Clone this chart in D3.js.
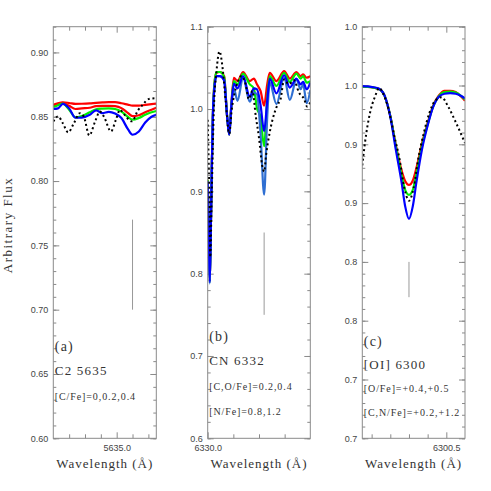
<!DOCTYPE html>
<html><head><meta charset="utf-8">
<script src="https://cdn.jsdelivr.net/npm/d3@7"></script>
<style>body{margin:0;background:#fff}svg{display:block}</style>
</head><body><svg id="chart" width="491" height="491"></svg>
<script>
// ---------- Panel (a): C2 5635 ----------
const aWave  = [5634.60,5634.63,5634.66,5634.70,5634.74,5634.78,5634.83,5634.87,5634.91,5634.95,5634.99,5635.03,5635.07,5635.10,5635.14,5635.18,5635.22,5635.25];
const aFlat  = [0.8593,0.8605,0.8612,0.8607,0.8600,0.8601,0.8604,0.8608,0.8611,0.8613,0.8613,0.8605,0.8594,0.8586,0.8586,0.8592,0.8598,0.8603];
const aRed   = [0.8585,0.8600,0.8608,0.8585,0.8560,0.8565,0.8570,0.8583,0.8585,0.8585,0.8582,0.8567,0.8530,0.8505,0.8512,0.8535,0.8555,0.8570];
const aGreen = [0.8575,0.8590,0.8602,0.8555,0.8495,0.8505,0.8535,0.8558,0.8563,0.8565,0.8560,0.8540,0.8500,0.8477,0.8490,0.8515,0.8535,0.8545];
const aBlue  = [0.8560,0.8565,0.8600,0.8565,0.8492,0.8493,0.8515,0.8550,0.8528,0.8538,0.8525,0.8490,0.8405,0.8360,0.8385,0.8455,0.8500,0.8515];
const aObsWave = [5634.600,5634.630,5634.660,5634.694,5634.730,5634.768,5634.793,5634.827,5634.863,5634.894,5634.920,5634.964,5634.996,5635.021,5635.046,5635.095,5635.135,5635.166,5635.200,5635.250];
const aObs     = [0.8464,0.8503,0.8450,0.8378,0.8450,0.8528,0.8500,0.8355,0.8460,0.8540,0.8500,0.8386,0.8480,0.8554,0.8520,0.8464,0.8550,0.8595,0.8637,0.8645];
const aMarker = [5635.10, 0.70, 0.77];
const aYMajor = [0.60,0.65,0.70,0.75,0.80,0.85,0.90];
const aYLabels = ["0.60","0.65","0.70","0.75","0.80","0.85","0.90"];
const aXMajor = [5635.0];
const aXLabels = ["5635.0"];
const aXMinor = [5634.7,5634.8,5634.9,5635.1,5635.2];
const aText = ["(a)","C2 5635","[C/Fe]=0,0.2,0.4"];

// ---------- Panel (b): CN 6332 ----------
const bWave  = [6330.00,6330.02,6330.04,6330.06,6330.08,6330.10,6330.13,6330.17,6330.24,6330.32,6330.38,6330.42,6330.46,6330.51,6330.58,6330.69,6330.82,6330.90,6330.96,6331.03,6331.10,6331.16,6331.21,6331.34,6331.49,6331.60,6331.73,6331.81,6331.86,6331.93,6332.00];
const bRed   = [0.914,0.850,0.790,0.850,0.930,0.990,1.030,1.044,1.045,1.040,0.990,0.969,1.005,1.038,1.034,1.045,1.034,1.037,1.030,1.022,1.004,1.030,1.044,1.034,1.046,1.037,1.045,1.040,1.042,1.038,1.040];
const bGreen = [0.914,0.850,0.790,0.850,0.930,0.990,1.030,1.045,1.045,1.039,0.990,0.969,1.004,1.034,1.030,1.043,1.030,1.025,1.001,0.990,0.955,1.012,1.040,1.028,1.044,1.033,1.043,1.037,1.040,1.032,1.034];
const bBlue  = [0.912,0.850,0.790,0.850,0.930,0.990,1.025,1.040,1.040,1.035,0.990,0.969,1.003,1.031,1.025,1.040,1.015,1.025,1.024,1.005,0.973,1.010,1.037,1.019,1.041,1.026,1.037,1.030,1.033,1.024,1.032];
const bLight = [0.912,0.850,0.788,0.850,0.930,0.990,1.025,1.040,1.040,1.035,0.990,0.969,1.003,1.025,1.010,1.038,1.009,1.020,1.018,0.970,0.896,0.990,1.032,1.006,1.038,1.011,1.036,1.024,1.030,1.007,1.023];
const bObsWave = [6330.00,6330.03,6330.05,6330.08,6330.12,6330.17,6330.23,6330.29,6330.35,6330.42,6330.47,6330.52,6330.57,6330.66,6330.74,6330.80,6330.87,6330.94,6331.00,6331.06,6331.10,6331.14,6331.21,6331.30,6331.36,6331.42,6331.49,6331.58,6331.68,6331.78,6331.88,6331.94,6332.00];
const bObs     = [0.987,0.900,0.820,0.900,1.000,1.045,1.070,1.050,1.010,0.970,1.000,1.018,1.030,1.040,1.030,1.012,1.022,0.990,0.965,0.932,0.924,0.945,0.972,0.995,1.005,1.012,1.036,1.030,1.035,1.020,1.012,1.003,1.008];
const bMarker = [6331.10, 0.75, 0.85];
const bYMajor = [0.6,0.7,0.8,0.9,1.0,1.1];
const bYLabels = ["0.6","0.7","0.8","0.9","1.0","1.1"];
const bXMajor = [6330.0];
const bXLabels = ["6330.0"];
const bXMinor = [6330.5,6331.0,6331.5];
const bText = ["(b)","CN 6332","[C,O/Fe]=0.2,0.4","[N/Fe]=0.8,1.2"];

// ---------- Panel (c): [OI] 6300 ----------
const cWave  = [6300.05,6300.08,6300.11,6300.14,6300.17,6300.20,6300.23,6300.26,6300.28,6300.30,6300.32,6300.34,6300.37,6300.40,6300.43,6300.46,6300.49,6300.52,6300.55,6300.58,6300.60];
const cRed   = [0.9990,0.9988,0.9982,0.9970,0.9910,0.9740,0.9490,0.9280,0.9185,0.9154,0.9190,0.9300,0.9510,0.9680,0.9830,0.9915,0.9955,0.9955,0.9945,0.9905,0.9870];
const cGreen = [0.9990,0.9988,0.9982,0.9970,0.9910,0.9740,0.9480,0.9240,0.9110,0.9070,0.9110,0.9250,0.9490,0.9670,0.9825,0.9910,0.9945,0.9948,0.9940,0.9910,0.9880];
const cBlue  = [0.9995,0.9992,0.9985,0.9972,0.9912,0.9735,0.9450,0.9180,0.8970,0.8866,0.8970,0.9180,0.9460,0.9660,0.9820,0.9905,0.9930,0.9935,0.9930,0.9910,0.9890];
const cObsWave = [6300.05,6300.064,6300.091,6300.118,6300.141,6300.162,6300.19,6300.22,6300.25,6300.275,6300.30,6300.325,6300.35,6300.38,6300.41,6300.44,6300.475,6300.51,6300.55,6300.60];
const cObs     = [0.932,0.951,0.9765,0.9906,0.9978,0.993,0.980,0.958,0.937,0.913,0.902,0.913,0.938,0.960,0.977,0.987,0.990,0.982,0.969,0.951];
const cMarker = [6300.30, 0.82, 0.85];
const cYMajor = [0.70,0.75,0.80,0.85,0.90,0.95,1.00,1.05];
const cYLabels = ["0.7","0.7","0.8","0.8","0.9","0.9","1.0","1.0"];
const cXMajor = [6300.5];
const cXLabels = ["6300.5"];
const cXMinor = [6300.1,6300.2,6300.3,6300.4];
const cText = ["(c)","[OI] 6300","[O/Fe]=+0.4,+0.5","[C,N/Fe]=+0.2,+1.2"];

const yTitle = "Arbitrary Flux";
const xTitle = "Wavelength (\u00C5)";

// ---------- drawing ----------
const svg = d3.select("#chart");
const TOP = 26.7, BOTTOM = 438.3;
const FRAME = "#8a8a8a", TXT = "#333";
const SANS = "'Liberation Sans', Arial, sans-serif";
const SERIF = "'Liberation Serif', 'Times New Roman', serif";

const panels = [
  {id:"a", left:53.3, right:156.3, xDom:[5634.6,5635.25], yDom:[0.60,0.92], yMinorStep:0.01,
   yMajor:aYMajor, yLabels:aYLabels, xMajor:aXMajor, xLabels:aXLabels, xMinor:aXMinor,
   series:[
     {w:aWave,f:aFlat,c:"#ff0000"},
     {w:aWave,f:aRed,c:"#ff0000"},
     {w:aWave,f:aGreen,c:"#00ee00"},
     {w:aWave,f:aBlue,c:"#0000ff"},
     {w:aObsWave,f:aObs,c:"#000",dot:true}],
   marker:aMarker, text:aText, textY:[346,370,396], textSize:[14,13,10]},
  {id:"b", left:207.7, right:310.3, xDom:[6330.0,6332.0], yDom:[0.6,1.1], yMinorStep:0.02,
   yMajor:bYMajor, yLabels:bYLabels, xMajor:bXMajor, xLabels:bXLabels, xMinor:bXMinor,
   series:[
     {w:bWave,f:bRed,c:"#ff0000"},
     {w:bWave,f:bGreen,c:"#00ee00"},
     {w:bWave,f:bLight,c:"#2f6fd2"},
     {w:bWave,f:bBlue,c:"#0000ff"},
     {w:bObsWave,f:bObs,c:"#000",dot:true}],
   marker:bMarker, text:bText, textY:[336,360,386,411], textSize:[14,13,10,10]},
  {id:"c", left:362.3, right:465, xDom:[6300.05,6300.6], yDom:[0.70,1.05], yMinorStep:0.01,
   yMajor:cYMajor, yLabels:cYLabels, xMajor:cXMajor, xLabels:cXLabels, xMinor:cXMinor,
   series:[
     {w:cWave,f:cRed,c:"#ff0000"},
     {w:cWave,f:cGreen,c:"#00ee00"},
     {w:cWave,f:cBlue,c:"#0000ff"},
     {w:cObsWave,f:cObs,c:"#000",dot:true}],
   marker:cMarker, text:cText, textY:[341,364,388,412], textSize:[14,13,10,10]}
];

function styleAxis(g){
  g.select(".domain").remove();
  g.selectAll(".tick line").attr("stroke",FRAME).attr("stroke-width",1);
  g.selectAll(".tick text").attr("fill","#444").style("font-family",SANS).style("font-size","9px");
}

panels.forEach(p=>{
  const x = d3.scaleLinear().domain(p.xDom).range([p.left,p.right]);
  const y = d3.scaleLinear().domain(p.yDom).range([BOTTOM,TOP]);
  const g = svg.append("g");
  const yMinor = d3.range(p.yDom[0], p.yDom[1]+1e-9, p.yMinorStep).map(v=>+v.toFixed(4));
  const ylab = v => p.yLabels[p.yMajor.findIndex(m=>Math.abs(m-v)<1e-9)];
  const xlab = v => p.xLabels[p.xMajor.findIndex(m=>Math.abs(m-v)<1e-9)];

  // minor ticks
  g.append("g").attr("transform",`translate(${p.left},0)`).call(d3.axisLeft(y).tickValues(yMinor).tickSize(-3).tickFormat("")).call(styleAxis);
  g.append("g").attr("transform",`translate(${p.right},0)`).call(d3.axisRight(y).tickValues(yMinor).tickSize(-3).tickFormat("")).call(styleAxis);
  g.append("g").attr("transform",`translate(0,${BOTTOM})`).call(d3.axisBottom(x).tickValues(p.xMinor).tickSize(-4).tickFormat("")).call(styleAxis);
  g.append("g").attr("transform",`translate(0,${TOP})`).call(d3.axisTop(x).tickValues(p.xMinor).tickSize(-4).tickFormat("")).call(styleAxis);
  // major ticks
  g.append("g").attr("transform",`translate(${p.left},0)`).call(d3.axisLeft(y).tickValues(p.yMajor).tickSize(-6).tickPadding(5).tickFormat(ylab)).call(styleAxis);
  g.append("g").attr("transform",`translate(${p.right},0)`).call(d3.axisRight(y).tickValues(p.yMajor).tickSize(-6).tickFormat("")).call(styleAxis);
  g.append("g").attr("transform",`translate(0,${BOTTOM})`).call(d3.axisBottom(x).tickValues(p.xMajor).tickSize(-6).tickPadding(6).tickFormat(xlab)).call(styleAxis);
  g.append("g").attr("transform",`translate(0,${TOP})`).call(d3.axisTop(x).tickValues(p.xMajor).tickSize(-6).tickFormat("")).call(styleAxis);

  // clip
  const clipId = "clip-"+p.id;
  svg.append("clipPath").attr("id",clipId).append("rect")
    .attr("x",p.left).attr("y",TOP).attr("width",p.right-p.left).attr("height",BOTTOM-TOP);
  const plot = g.append("g").attr("clip-path",`url(#${clipId})`);

  // marker line
  plot.append("line").attr("x1",x(p.marker[0])).attr("x2",x(p.marker[0]))
    .attr("y1",y(p.marker[1])).attr("y2",y(p.marker[2]))
    .attr("stroke","#999").attr("stroke-width",1);

  const line = d3.line().x(d=>x(d[0])).y(d=>y(d[1])).curve(d3.curveMonotoneX);
  p.series.forEach(s=>{
    const pts = s.w.map((w,i)=>[w,s.f[i]]);
    const path = plot.append("path").datum(pts).attr("d",line).attr("fill","none")
      .attr("stroke",s.c).attr("stroke-linejoin","round");
    if(s.dot){ path.attr("stroke-width",2).attr("stroke-dasharray","2 2.8"); }
    else { path.attr("stroke-width",2.2); }
  });

  // frame
  g.append("rect").attr("x",p.left).attr("y",TOP).attr("width",p.right-p.left).attr("height",BOTTOM-TOP)
    .attr("fill","none").attr("stroke",FRAME).attr("stroke-width",1);

  // annotations
  p.text.forEach((t,i)=>{
    const fs = p.textSize[i];
    g.append("text").attr("x",p.left+1.5).attr("y",p.textY[i]+fs*0.35)
      .attr("fill",TXT).style("font-family",SERIF).style("font-size",fs+"px")
      .style("letter-spacing", fs>=13 ? "1.2px" : "0.9px").text(t);
  });

  // x title
  g.append("text").attr("x",(p.left+p.right)/2).attr("y",468).attr("text-anchor","middle")
    .attr("fill",TXT).style("font-family",SERIF).style("font-size","13px").style("letter-spacing","1px").text(xTitle);
});

svg.append("text").attr("transform","translate(12,225) rotate(-90)").attr("text-anchor","middle")
  .attr("fill",TXT).style("font-family",SERIF).style("font-size","13px").style("letter-spacing","1.5px").text(yTitle);
</script></body></html>
